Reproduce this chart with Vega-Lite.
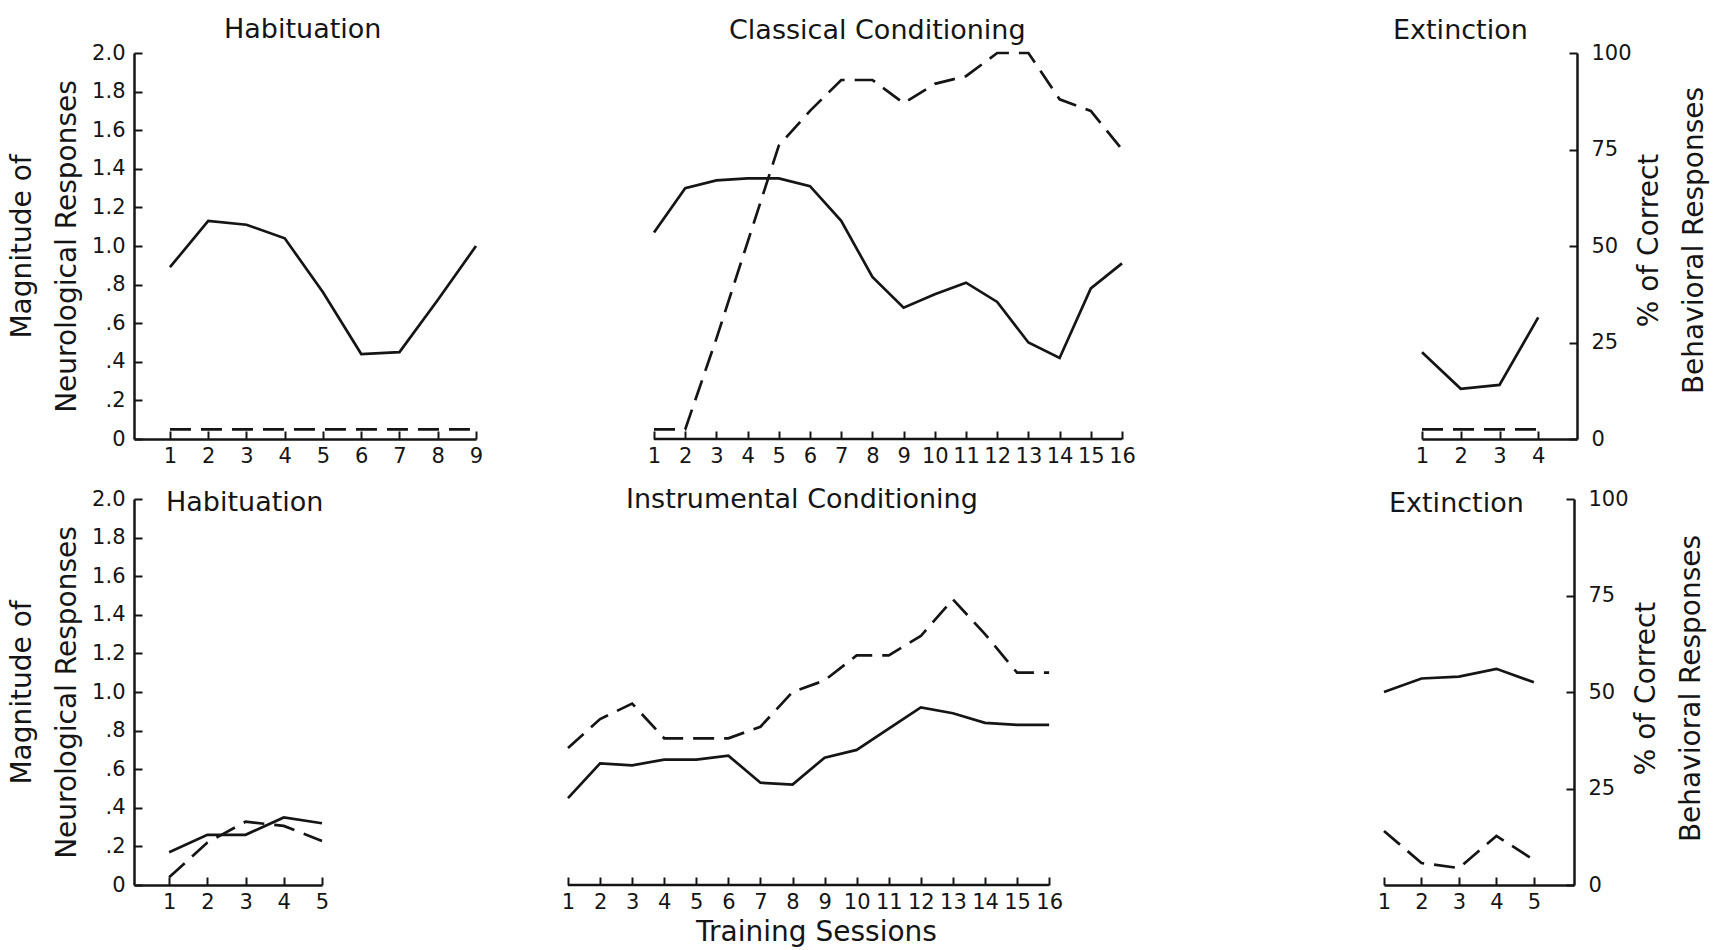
{
  "$schema": "https://vega.github.io/schema/vega-lite/v6.json",
  "background": "white",
  "padding": {"left": 8, "top": 16, "right": 4, "bottom": 2},
  "config": {
    "font": "DejaVu Sans",
    "view": {"stroke": null},
    "axis": {"grid": false, "domainColor": "#151515", "domainWidth": 2.5, "tickColor": "#151515", "tickWidth": 2, "tickSize": -8, "labelColor": "#151515", "labelFontSize": 21, "labelFont": "DejaVu Sans", "titleFont": "DejaVu Sans", "titleFontSize": 28, "titleFontWeight": "normal", "titleColor": "#151515", "titleLineHeight": 45, "labelOverlap": false},
    "axisX": {"labelPadding": 14, "labelFlush": false},
    "title": {"font": "DejaVu Sans", "fontSize": 27, "fontWeight": "normal", "color": "#151515", "frame": "group", "anchor": "start"},
    "line": {"color": "#151515", "strokeWidth": 2.7},
    "rule": {"color": "#151515", "strokeWidth": 2.5}
  },
  "datasets": {
    "tl": [
      {"session": 1, "neuro": 0.89, "behavioral": 2.5},
      {"session": 2, "neuro": 1.13, "behavioral": 2.5},
      {"session": 3, "neuro": 1.11, "behavioral": 2.5},
      {"session": 4, "neuro": 1.04, "behavioral": 2.5},
      {"session": 5, "neuro": 0.76, "behavioral": 2.5},
      {"session": 6, "neuro": 0.44, "behavioral": 2.5},
      {"session": 7, "neuro": 0.45, "behavioral": 2.5},
      {"session": 8, "neuro": 0.72, "behavioral": 2.5},
      {"session": 9, "neuro": 1.0, "behavioral": 2.5}
    ],
    "tm": [
      {"session": 1, "neuro": 1.07, "behavioral": 2.5},
      {"session": 2, "neuro": 1.3, "behavioral": 2.5},
      {"session": 3, "neuro": 1.34, "behavioral": 26},
      {"session": 4, "neuro": 1.35, "behavioral": 51},
      {"session": 5, "neuro": 1.35, "behavioral": 76},
      {"session": 6, "neuro": 1.31, "behavioral": 85},
      {"session": 7, "neuro": 1.13, "behavioral": 93},
      {"session": 8, "neuro": 0.84, "behavioral": 93},
      {"session": 9, "neuro": 0.68, "behavioral": 87},
      {"session": 10, "neuro": 0.75, "behavioral": 92},
      {"session": 11, "neuro": 0.81, "behavioral": 94},
      {"session": 12, "neuro": 0.71, "behavioral": 100},
      {"session": 13, "neuro": 0.5, "behavioral": 100},
      {"session": 14, "neuro": 0.42, "behavioral": 88},
      {"session": 15, "neuro": 0.78, "behavioral": 85},
      {"session": 16, "neuro": 0.91, "behavioral": 75}
    ],
    "tr": [
      {"session": 1, "neuro": 0.45, "behavioral": 2.5},
      {"session": 2, "neuro": 0.26, "behavioral": 2.5},
      {"session": 3, "neuro": 0.28, "behavioral": 2.5},
      {"session": 4, "neuro": 0.63, "behavioral": 2.5}
    ],
    "bl": [
      {"session": 1, "neuro": 0.17, "behavioral": 2},
      {"session": 2, "neuro": 0.26, "behavioral": 11},
      {"session": 3, "neuro": 0.26, "behavioral": 16.4},
      {"session": 4, "neuro": 0.35, "behavioral": 15.3},
      {"session": 5, "neuro": 0.32, "behavioral": 11.4}
    ],
    "bm": [
      {"session": 1, "neuro": 0.45, "behavioral": 35.5},
      {"session": 2, "neuro": 0.63, "behavioral": 43},
      {"session": 3, "neuro": 0.62, "behavioral": 47},
      {"session": 4, "neuro": 0.65, "behavioral": 38},
      {"session": 5, "neuro": 0.65, "behavioral": 38},
      {"session": 6, "neuro": 0.67, "behavioral": 38},
      {"session": 7, "neuro": 0.53, "behavioral": 41},
      {"session": 8, "neuro": 0.52, "behavioral": 50},
      {"session": 9, "neuro": 0.66, "behavioral": 53},
      {"session": 10, "neuro": 0.7, "behavioral": 59.5},
      {"session": 11, "neuro": 0.81, "behavioral": 59.5},
      {"session": 12, "neuro": 0.92, "behavioral": 64.5},
      {"session": 13, "neuro": 0.89, "behavioral": 74},
      {"session": 14, "neuro": 0.84, "behavioral": 65},
      {"session": 15, "neuro": 0.83, "behavioral": 55},
      {"session": 16, "neuro": 0.83, "behavioral": 55}
    ],
    "br": [
      {"session": 1, "neuro": 1.0, "behavioral": 14},
      {"session": 2, "neuro": 1.07, "behavioral": 5.7},
      {"session": 3, "neuro": 1.08, "behavioral": 4.4},
      {"session": 4, "neuro": 1.12, "behavioral": 12.7},
      {"session": 5, "neuro": 1.05, "behavioral": 6.5}
    ]
  },
  "spacing": 20,
  "vconcat": [
    {
      "bounds": "flush",
      "spacing": 178,
      "hconcat": [
        {
          "width": 342, "height": 386,
          "title": {"text": "Habituation", "dx": 90, "offset": -2},
          "data": {"name": "tl"},
          "layer": [
            {"mark": "line", "encoding": {
              "x": {"field": "session", "type": "quantitative", "scale": {"domain": [0.06, 9]}, "axis": {"values": [1,2,3,4,5,6,7,8,9], "title": null}},
              "y": {"field": "neuro", "type": "quantitative", "scale": {"domain": [0, 2]}, "axis": {"orient": "left", "values": [0,0.2,0.4,0.6,0.8,1,1.2,1.4,1.6,1.8,2], "labelExpr": "datum.value == 0 ? '0' : (datum.value < 1 ? replace(format(datum.value, '.1f'), '0.', '.') : format(datum.value, '.1f'))", "title": ["Magnitude of", "Neurological Responses"], "labelPadding": 17, "titlePadding": 10}}
            }},
            {"mark": {"type": "line", "strokeDash": [21, 10]}, "encoding": {
              "x": {"field": "session", "type": "quantitative", "scale": {"domain": [0.06, 9]}, "axis": {"values": [1,2,3,4,5,6,7,8,9], "title": null}},
              "y": {"field": "behavioral", "type": "quantitative", "scale": {"domain": [0, 100]}, "axis": null}
            }}
          ],
          "resolve": {"scale": {"y": "independent"}}
        },
        {
          "width": 590, "height": 386,
          "title": {"text": "Classical Conditioning", "dx": 75, "offset": 3},
          "data": {"name": "tm"},
          "layer": [
            {"mark": "rule", "encoding": {
              "x": {"aggregate": "min", "field": "session", "type": "quantitative", "scale": {"domain": [1, 19.91]}, "axis": {"values": [1,2,3,4,5,6,7,8,9,10,11,12,13,14,15,16], "title": null, "domain": false}},
              "x2": {"aggregate": "max", "field": "session"},
              "y": {"datum": 0, "type": "quantitative", "scale": {"domain": [0, 2]}, "axis": null}
            }},
            {"mark": "line", "encoding": {
              "x": {"field": "session", "type": "quantitative", "scale": {"domain": [1, 19.91]}, "axis": {"values": [1,2,3,4,5,6,7,8,9,10,11,12,13,14,15,16], "title": null, "domain": false}},
              "y": {"field": "neuro", "type": "quantitative", "scale": {"domain": [0, 2]}, "axis": null}
            }},
            {"mark": {"type": "line", "strokeDash": [21, 10]}, "encoding": {
              "x": {"field": "session", "type": "quantitative", "scale": {"domain": [1, 19.91]}, "axis": {"values": [1,2,3,4,5,6,7,8,9,10,11,12,13,14,15,16], "title": null, "domain": false}},
              "y": {"field": "behavioral", "type": "quantitative", "scale": {"domain": [0, 100]}, "axis": null}
            }}
          ],
          "resolve": {"scale": {"y": "independent"}}
        },
        {
          "width": 155, "height": 386,
          "title": {"text": "Extinction", "dx": -29, "offset": -3},
          "data": {"name": "tr"},
          "layer": [
            {"mark": "line", "encoding": {
              "x": {"field": "session", "type": "quantitative", "scale": {"domain": [1, 5]}, "axis": {"values": [1,2,3,4], "title": null}},
              "y": {"field": "neuro", "type": "quantitative", "scale": {"domain": [0, 2]}, "axis": null}
            }},
            {"mark": {"type": "line", "strokeDash": [21, 10]}, "encoding": {
              "x": {"field": "session", "type": "quantitative", "scale": {"domain": [1, 5]}, "axis": {"values": [1,2,3,4], "title": null}},
              "y": {"field": "behavioral", "type": "quantitative", "scale": {"domain": [0, 100]}, "axis": {"orient": "right", "values": [0,25,50,75,100], "title": ["% of Correct", "Behavioral Responses"], "titleAngle": 270, "titleBaseline": "top", "titleAlign": "center", "titleX": 58, "titleY": 187, "labelPadding": 22, "labelAlign": "left"}}
            }}
          ],
          "resolve": {"scale": {"y": "independent"}}
        }
      ]
    },
    {
      "bounds": "flush",
      "spacing": 246,
      "hconcat": [
        {
          "width": 188, "height": 386,
          "title": {"text": "Habituation", "dx": 32, "offset": -29},
          "data": {"name": "bl"},
          "layer": [
            {"mark": "line", "encoding": {
              "x": {"field": "session", "type": "quantitative", "scale": {"domain": [0.08, 5]}, "axis": {"values": [1,2,3,4,5], "title": null}},
              "y": {"field": "neuro", "type": "quantitative", "scale": {"domain": [0, 2]}, "axis": {"orient": "left", "values": [0,0.2,0.4,0.6,0.8,1,1.2,1.4,1.6,1.8,2], "labelExpr": "datum.value == 0 ? '0' : (datum.value < 1 ? replace(format(datum.value, '.1f'), '0.', '.') : format(datum.value, '.1f'))", "title": ["Magnitude of", "Neurological Responses"], "labelPadding": 17, "titlePadding": 10}}
            }},
            {"mark": {"type": "line", "strokeDash": [21, 10]}, "encoding": {
              "x": {"field": "session", "type": "quantitative", "scale": {"domain": [0.08, 5]}, "axis": {"values": [1,2,3,4,5], "title": null}},
              "y": {"field": "behavioral", "type": "quantitative", "scale": {"domain": [0, 100]}, "axis": null}
            }}
          ],
          "resolve": {"scale": {"y": "independent"}}
        },
        {
          "width": 570, "height": 386,
          "title": {"text": "Instrumental Conditioning", "dx": 58, "offset": -15},
          "data": {"name": "bm"},
          "layer": [
            {"mark": "rule", "encoding": {
              "x": {"aggregate": "min", "field": "session", "type": "quantitative", "scale": {"domain": [1, 18.77]}, "axis": {"values": [1,2,3,4,5,6,7,8,9,10,11,12,13,14,15,16], "title": "Training Sessions", "titleX": 248, "titlePadding": 6, "domain": false}},
              "x2": {"aggregate": "max", "field": "session"},
              "y": {"datum": 0, "type": "quantitative", "scale": {"domain": [0, 2]}, "axis": null}
            }},
            {"mark": "line", "encoding": {
              "x": {"field": "session", "type": "quantitative", "scale": {"domain": [1, 18.77]}, "axis": {"values": [1,2,3,4,5,6,7,8,9,10,11,12,13,14,15,16], "title": "Training Sessions", "titleX": 248, "titlePadding": 6, "domain": false}},
              "y": {"field": "neuro", "type": "quantitative", "scale": {"domain": [0, 2]}, "axis": null}
            }},
            {"mark": {"type": "line", "strokeDash": [21, 10]}, "encoding": {
              "x": {"field": "session", "type": "quantitative", "scale": {"domain": [1, 18.77]}, "axis": {"values": [1,2,3,4,5,6,7,8,9,10,11,12,13,14,15,16], "title": "Training Sessions", "titleX": 248, "titlePadding": 6, "domain": false}},
              "y": {"field": "behavioral", "type": "quantitative", "scale": {"domain": [0, 100]}, "axis": null}
            }}
          ],
          "resolve": {"scale": {"y": "independent"}}
        },
        {
          "width": 190, "height": 386,
          "title": {"text": "Extinction", "dx": 5, "offset": -30},
          "data": {"name": "br"},
          "layer": [
            {"mark": "line", "encoding": {
              "x": {"field": "session", "type": "quantitative", "scale": {"domain": [1, 6.07]}, "axis": {"values": [1,2,3,4,5], "title": null}},
              "y": {"field": "neuro", "type": "quantitative", "scale": {"domain": [0, 2]}, "axis": null}
            }},
            {"mark": {"type": "line", "strokeDash": [21, 10]}, "encoding": {
              "x": {"field": "session", "type": "quantitative", "scale": {"domain": [1, 6.07]}, "axis": {"values": [1,2,3,4,5], "title": null}},
              "y": {"field": "behavioral", "type": "quantitative", "scale": {"domain": [0, 100]}, "axis": {"orient": "right", "values": [0,25,50,75,100], "title": ["% of Correct", "Behavioral Responses"], "titleAngle": 270, "titleBaseline": "top", "titleAlign": "center", "titleX": 58, "titleY": 189, "labelPadding": 22, "labelAlign": "left"}}
            }}
          ],
          "resolve": {"scale": {"y": "independent"}}
        }
      ]
    }
  ]
}
